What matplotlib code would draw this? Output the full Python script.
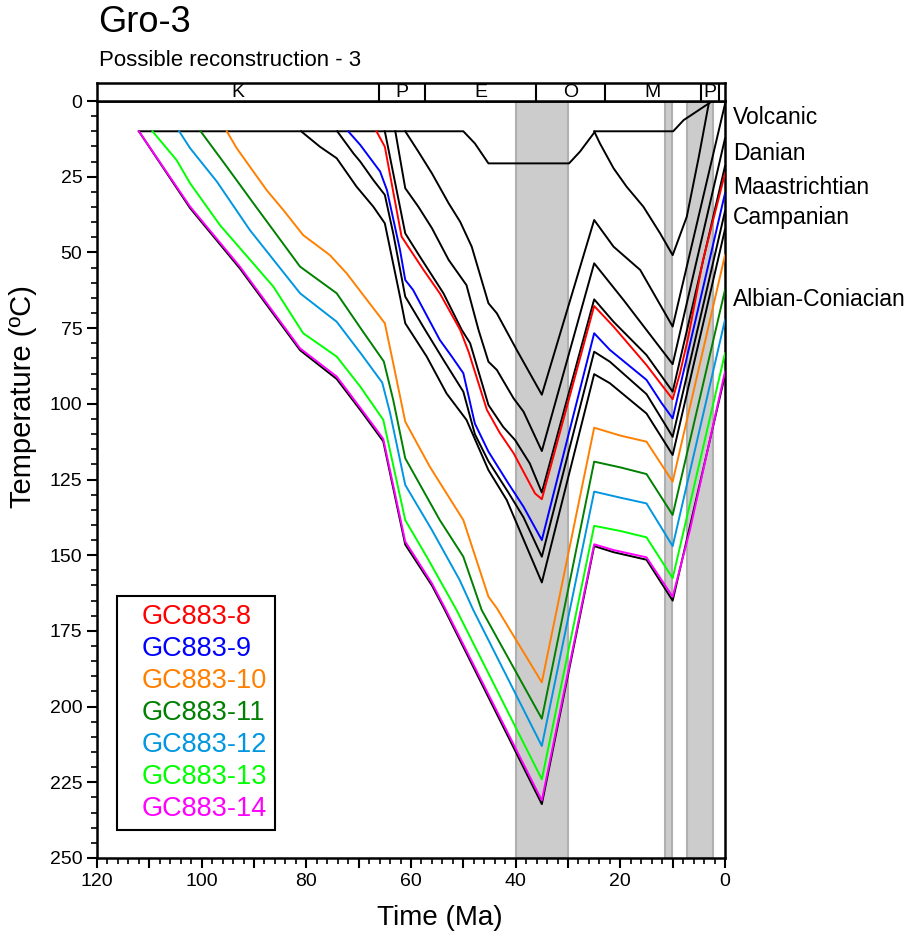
import matplotlib
matplotlib.use("Agg")
import matplotlib.pyplot as plt
from matplotlib.ticker import MultipleLocator, FuncFormatter
import matplotlib.transforms as mtransforms

plt.rcParams['font.family'] = ['Liberation Sans', 'DejaVu Sans']

# burial paths (time Ma, temperature degC)
surface = [(112, 10), (50, 10), (47.8, 14), (45.2, 20.6), (29.8, 20.6), (27.7, 16.7),
           (24.8, 10), (9.9, 10), (7.9, 6.3), (6.4, 4.6), (3.1, 0.8), (2.5, 0)]
hz_25 = [(25, 10), (23.9, 14), (21.3, 22.2), (18.8, 28.3), (15.6, 34.9), (12.4, 43.7),
         (10, 50.9), (7.3, 38.2), (5, 18.4), (3.1, 0.8), (2.6, 0)]
hz_61 = [(61.1, 10), (58.6, 16.7), (56, 23.9), (52.8, 33.8), (50.6, 39.9), (48.4, 48.1),
         (45.2, 66.8), (43.6, 70.1), (39.8, 82.2), (35, 97), (25, 39.3), (21.3, 48.1),
         (16.2, 55.8), (10, 74.5), (0, 1)]
hz_63 = [(63, 10), (61.1, 28.8), (58.6, 34.9), (56, 42), (52.8, 52.5), (49.4, 60.8),
         (47.1, 75.6), (45.2, 86.1), (43.6, 88.8), (40.4, 98.2), (38.5, 102.6), (35, 115.6),
         (25, 53.6), (19.4, 65.7), (10, 86.9), (0, 12.4)]
hz_65 = [(65, 10), (61.1, 43.7), (58.3, 51.4), (53.8, 63.5), (50.3, 75.6), (48.7, 80),
         (45.2, 100.4), (42.4, 107.6), (40.1, 112), (37.3, 119.7), (35, 129.3), (25, 65.5),
         (21.3, 72.9), (15, 83.9), (10, 96), (0, 21.5)]
hz_74 = [(74.1, 10), (71, 17.3), (69.7, 20), (67.2, 26.1), (65, 31), (63.4, 43.7), (61.1, 64.6),
         (57.3, 75.6), (53.8, 85.5), (50, 96), (47.8, 110), (45.2, 119), (41.5, 129),
         (38.5, 137.5), (35, 150.5), (25, 82.8), (22, 86.1), (15, 96.8), (10, 110.9), (0, 36.4)]
hz_81 = [(81, 10), (77.4, 15.1), (74.2, 18.9), (70.4, 28.3), (67.2, 34.9), (65, 40.4),
         (62.1, 64.6), (61.1, 73.4), (57, 84.4), (53.2, 96.6), (49.4, 105.3), (45.2, 121.9),
         (41.7, 131.8), (35, 159), (25, 90.2), (22, 93.2), (15, 103.2), (10, 116.9), (0, 42.4)]
hz_base = [(112, 10), (102.2, 35.4), (92.7, 55.3), (81.2, 82.3), (74.2, 91.8), (69.4, 102.7),
           (65.3, 112.4), (61.1, 146.5), (56, 160), (53.5, 168.2), (35, 232.2), (25, 147),
           (21.3, 149), (15, 151.5), (10, 165), (0, 90.5)]

gc883_8 = [(66.6, 10), (65, 15.1), (61.8, 44.8), (57.6, 55.8), (54.5, 63.5), (50.6, 75.6),
           (49, 82.8), (45.5, 102), (43, 109.7), (40.4, 116.3), (36.3, 129.6), (35, 131.5),
           (25, 67.7), (21.3, 74.5), (15, 87.2), (10, 98.5), (8.6, 89.9), (7, 77.8),
           (4.2, 52.5), (0, 23.9)]
gc883_9 = [(72, 10), (69.7, 14.5), (65.9, 23.3), (64.6, 29.4), (62.1, 49.2), (61.1, 59.1),
           (59.6, 62.4), (54.5, 78.9), (52.2, 84.4), (50, 89.9), (47.8, 106.5), (45.2, 115.8),
           (41.4, 126.3), (38.5, 134), (35, 145), (25, 76.7), (22, 82.2), (15, 92.1),
           (12.1, 99.8), (10, 104.8), (0, 30.5)]
gc883_10 = [(95.2, 10), (93.3, 15.6), (87.6, 29.4), (84.4, 36), (80.6, 44.3), (75.5, 50.9),
            (72.3, 56.9), (65, 73.4), (63.4, 86.6), (61.1, 105.9), (56.4, 120.8), (50, 138.4),
            (45.2, 163.7), (43.6, 167.5), (35, 192), (25, 107.9), (20, 110.5), (15, 112.5),
            (10, 125.7), (0, 50.9)]
gc883_11 = [(100.2, 10), (95.2, 21.7), (90.1, 33.8), (81.2, 54.7), (74.2, 63.5), (69.4, 75.6),
            (65.2, 86), (63.4, 98.7), (61.1, 118), (54.5, 138.4), (50, 150.5), (46.5, 168.1),
            (35, 204), (25, 119.1), (20, 121), (15, 123.2), (10, 136.7), (0, 62.4)]
gc883_12 = [(104.3, 10), (102.2, 15.6), (97.1, 26.6), (90.8, 42.6), (81.2, 63.5), (74.2, 72.9),
            (69.4, 83.8), (65.5, 93), (64, 103), (61.1, 126.8), (56, 141.7), (50.7, 158.2),
            (48.1, 168.1), (35, 213), (25, 129), (20, 131), (15, 132.9), (10, 147), (0, 72.3)]
gc883_13 = [(109.4, 10), (104.8, 19.5), (102.2, 27.2), (96.5, 41), (86.3, 61.3), (80.6, 76.7),
            (74.2, 84.4), (69.7, 94.3), (65.3, 105.3), (61.1, 138.4), (57, 150.5), (51.3, 168.1),
            (35, 224), (25, 140.3), (20, 142), (15, 144.1), (10, 157.6), (0, 83.3)]
gc883_14 = [(112, 10), (102.2, 34.9), (92.7, 54.7), (81.2, 81.7), (74.2, 91), (69.4, 102),
            (65.3, 111.6), (61.1, 145.5), (56, 159.3), (53.5, 167.5), (35, 231), (25, 146.4),
            (21.3, 148.3), (15, 150.7), (10, 163.7), (6.7, 141.7), (0, 89.4)]

black_lines = [surface, hz_25, hz_61, hz_63, hz_65, hz_74, hz_81, hz_base]
samples = ['GC883-8', 'GC883-9', 'GC883-10', 'GC883-11', 'GC883-12', 'GC883-13', 'GC883-14']
sample_paths = [gc883_8, gc883_9, gc883_10, gc883_11, gc883_12, gc883_13, gc883_14]
sample_colors = ['#ff0000', '#0000ff', '#ff8000', '#008000', '#0096e0', '#00ff00', '#ff00ff']

horizon_names = ['Volcanic', 'Danian', 'Maastrichtian', 'Campanian', 'Albian-Coniacian']
horizon_label_T = [5.6, 17.2, 28.7, 38.6, 65.7]

periods = ['K', 'P', 'E', 'O', 'M', 'P', '']
period_bounds = [120, 66.1, 57.3, 36.05, 23, 4.6, 1.1, 0]

events = [(40, 30), (11.5, 10.1), (7.3, 2.3)]

W, H = 913, 942
fig = plt.figure(figsize=(W / 100, H / 100), dpi=100)
ax = fig.add_axes([97 / W, 1 - 858 / H, 628 / W, 757 / H])
axb = fig.add_axes([97 / W, 1 - 101 / H, 628 / W, 18 / H])

for t0, t1 in events:
    ax.axvspan(t0, t1, facecolor='#cccccc', edgecolor='#b0b0b0', lw=1.5, zorder=0)

for path in black_lines:
    ax.plot([p[0] for p in path], [p[1] for p in path], color='black', lw=1.4, zorder=2)
for path, c in zip(sample_paths, sample_colors):
    ax.plot([p[0] for p in path], [p[1] for p in path], color=c, lw=1.4, zorder=3)

ax.set_xlim(120, 0)
ax.set_ylim(250, 0)

ax.xaxis.set_major_locator(MultipleLocator(10))
ax.xaxis.set_minor_locator(MultipleLocator(2))
ax.xaxis.set_major_formatter(FuncFormatter(lambda v, p: '%d' % v if int(round(v)) % 20 == 0 else ''))
ax.yaxis.set_major_locator(MultipleLocator(25))
ax.yaxis.set_minor_locator(MultipleLocator(5))
ax.tick_params(which='major', direction='out', length=7, width=1.5, labelsize=14)
ax.tick_params(which='minor', direction='out', length=4, width=1.2)
for s in ax.spines.values():
    s.set_linewidth(1.8)

ax.set_xlabel('Time (Ma)', fontsize=20)
ax.xaxis.set_label_coords(0.546, -0.062)
ax.set_ylabel('Temperature (\u00baC)', fontsize=21)
ax.yaxis.set_label_coords(-0.095, 0.61)

trans = mtransforms.blended_transform_factory(ax.transAxes, ax.transData)
for name, T in zip(horizon_names, horizon_label_T):
    ax.text(1.013, T, name, transform=trans, fontsize=16.5, va='center', ha='left')

leg = ax.legend([plt.Line2D([], [], lw=0) for _ in samples], samples,
                loc='lower left', bbox_to_anchor=(0.032, 0.037), borderaxespad=0,
                handlelength=0, handletextpad=0.6, fancybox=False, framealpha=1,
                edgecolor='black', fontsize=19.5, labelspacing=0.22, borderpad=0.3)
leg.get_frame().set_linewidth(1.5)
for txt, c in zip(leg.get_texts(), sample_colors):
    txt.set_color(c)

# period bar
axb.set_xlim(120, 0)
axb.set_ylim(0, 1)
axb.set_xticks([])
axb.set_yticks([])
for s in axb.spines.values():
    s.set_linewidth(1.8)
for i, lab in enumerate(periods):
    a, b = period_bounds[i], period_bounds[i + 1]
    if i > 0:
        axb.axvline(a, color='black', lw=1.5)
    axb.text((a + b) / 2, 0.45, lab, ha='center', va='center', fontsize=14)

fig.text(98 / W, 1 - 22 / H, 'Gro-3', fontsize=26, va='center', ha='left')
fig.text(99 / W, 1 - 60 / H, 'Possible reconstruction - 3', fontsize=16, va='center', ha='left')

fig.savefig('out.png', dpi=100)
